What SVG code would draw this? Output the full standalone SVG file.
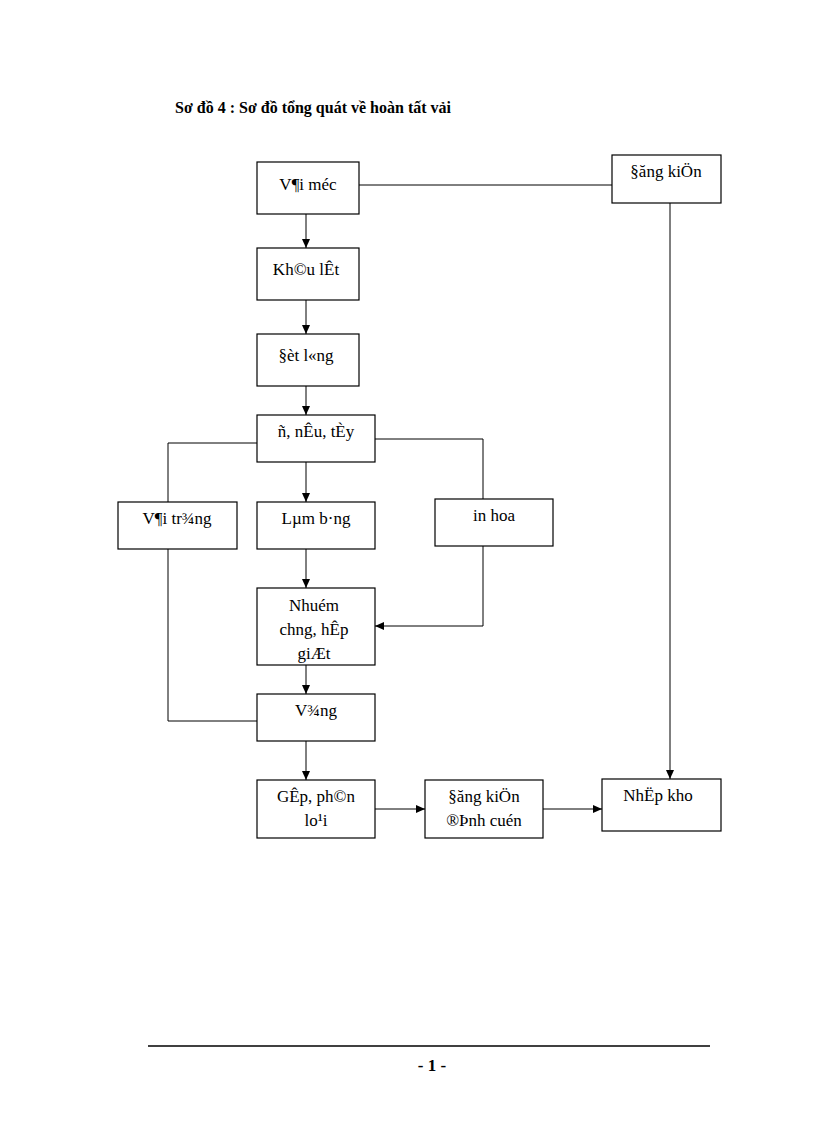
<svg xmlns="http://www.w3.org/2000/svg" width="816" height="1123" viewBox="0 0 816 1123">
<style>
rect{fill:#fff;stroke:#000;stroke-width:1.2}
text{font-family:"Liberation Serif",serif;font-size:17px;fill:#000;text-anchor:middle}
.c{fill:none;stroke:#000;stroke-width:1}
</style>
<defs><marker id="a" markerWidth="10" markerHeight="10" refX="9" refY="5" orient="auto" markerUnits="userSpaceOnUse"><path d="M0,1 L9,5 L0,9z" fill="#000"/></marker></defs>
<rect width="816" height="1123" style="stroke:none"/>
<text x="175" y="113" style="text-anchor:start;font-weight:bold;font-size:16px">Sơ đồ 4 : Sơ đồ tổng quát về hoàn tất vải</text>
<g id="connectors">
<path class="c" d="M359,185 H612"/>
<path class="c" d="M670,203 V779" marker-end="url(#a)"/>
<path class="c" d="M306,214 V248" marker-end="url(#a)"/>
<path class="c" d="M306,300 V334" marker-end="url(#a)"/>
<path class="c" d="M306,386 V415" marker-end="url(#a)"/>
<path class="c" d="M306,462 V502" marker-end="url(#a)"/>
<path class="c" d="M257,443 H168 V502"/>
<path class="c" d="M375,439 H483 V499"/>
<path class="c" d="M483,546 V626 H375" marker-end="url(#a)"/>
<path class="c" d="M306,549 V588" marker-end="url(#a)"/>
<path class="c" d="M306,665 V694" marker-end="url(#a)"/>
<path class="c" d="M168,549 V721 H257"/>
<path class="c" d="M306,741 V780" marker-end="url(#a)"/>
<path class="c" d="M375,809 H425" marker-end="url(#a)"/>
<path class="c" d="M543,809 H602" marker-end="url(#a)"/>
</g>
<g id="n1"><rect x="257" y="162" width="102" height="52"/><text x="308" y="190">V¶i méc</text></g>
<g id="n2"><rect x="612" y="155" width="109" height="48"/><text x="666" y="177">§ăng kiÖn</text></g>
<g id="n3"><rect x="257" y="248" width="102" height="52"/><text x="306" y="275">Kh©u lÊt</text></g>
<g id="n4"><rect x="257" y="334" width="102" height="52"/><text x="306" y="361">§èt l«ng</text></g>
<g id="n5"><rect x="257" y="415" width="118" height="47"/><text x="316" y="437">ñ, nÊu, tÈy</text></g>
<g id="n6"><rect x="118" y="502" width="119" height="47"/><text x="177" y="524">V¶i tr¾ng</text></g>
<g id="n7"><rect x="257" y="502" width="118" height="47"/><text x="316" y="524">Lµm b·ng</text></g>
<g id="n8"><rect x="435" y="499" width="118" height="47"/><text x="494" y="521">in hoa</text></g>
<g id="n9"><rect x="257" y="588" width="118" height="77"/><text x="314" y="611">Nhuém</text><text x="314" y="635">chng,  hÊp</text><text x="314" y="659">giÆt</text></g>
<g id="n10"><rect x="257" y="694" width="118" height="47"/><text x="316" y="716">V¾ng</text></g>
<g id="n11"><rect x="257" y="780" width="118" height="58"/><text x="316" y="802">GÊp, ph©n</text><text x="316" y="826">lo¹i</text></g>
<g id="n12"><rect x="425" y="780" width="118" height="58"/><text x="484" y="802">§ăng kiÖn</text><text x="484" y="826">®Þnh cuén</text></g>
<g id="n13"><rect x="602" y="779" width="119" height="52"/><text x="658" y="801">NhËp kho</text></g>
<path class="c" d="M148,1046 H710" style="stroke-width:1.5"/>
<text x="432" y="1071" style="font-weight:bold">- 1 -</text>
</svg>
